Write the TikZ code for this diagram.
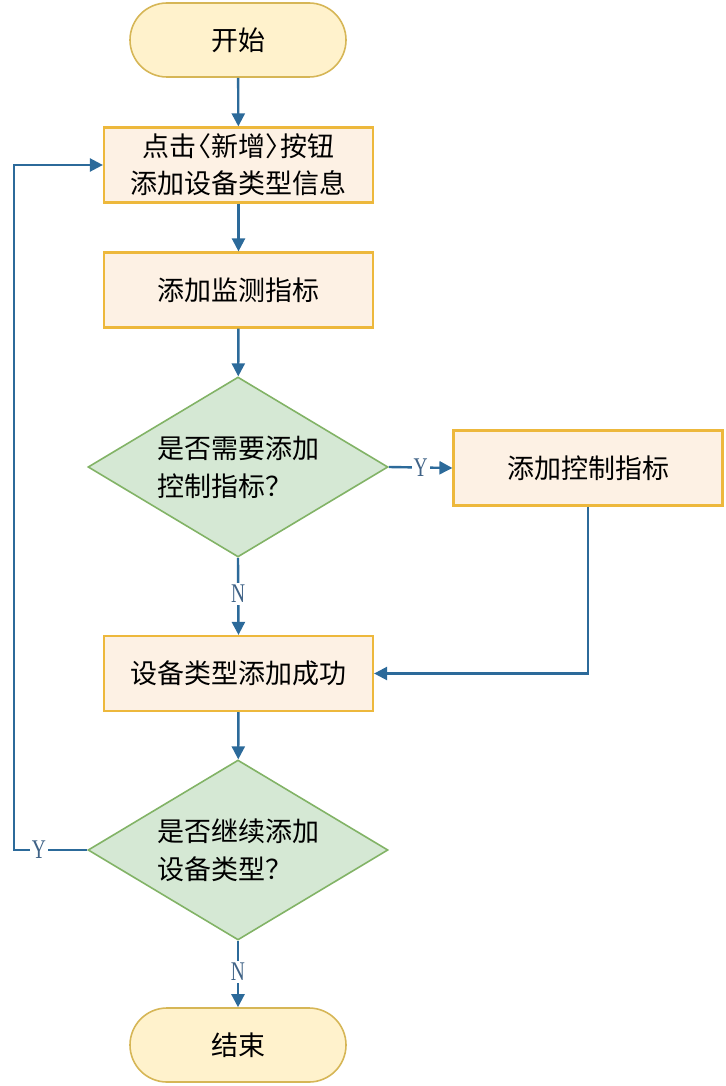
\documentclass[tikz,border=0pt]{standalone}
\usepackage{fontspec}
\newfontfamily\cjk{Noto Sans CJK SC}
\newfontfamily\lblfont{Liberation Serif}[FakeStretch=0.72]
\usetikzlibrary{shapes.geometric,shapes.misc,arrows.meta}
\definecolor{termfill}{HTML}{FFF2CC}
\definecolor{termdraw}{HTML}{D6B656}
\definecolor{boxfill}{HTML}{FDF1E4}
\definecolor{boxdraw}{HTML}{EDB83C}
\definecolor{decfill}{HTML}{D5E8D4}
\definecolor{decdraw}{HTML}{82B366}
\definecolor{linec}{HTML}{2C6A9A}
\definecolor{lblc}{HTML}{3F6286}
\tikzset{
  terminal/.style={rounded rectangle, draw=termdraw, fill=termfill, line width=1.6pt,
    minimum width=216pt, minimum height=74pt, inner sep=0pt, font=\cjk\fontsize{27}{30}\selectfont},
  procbox/.style={rectangle, draw=boxdraw, fill=boxfill, line width=2.2pt,
    minimum width=269pt, minimum height=75pt, inner sep=0pt, align=center,
    font=\cjk\fontsize{27}{37}\selectfont},
  decision/.style={diamond, aspect=1.667, draw=decdraw, fill=decfill, line width=1.6pt,
    minimum width=300pt, minimum height=180pt, inner sep=0pt, align=left,
    font=\cjk\fontsize{27}{38}\selectfont},
  conn/.style={draw=linec, line width=2.4pt, -{Triangle[length=13pt,width=13pt]}},
  lbl/.style={fill=white, inner sep=2pt, text=lblc, font=\lblfont\fontsize{27}{27}\selectfont}
}
\begin{document}
\begin{tikzpicture}[x=1pt,y=-1pt]
\useasboundingbox (0,0) rectangle (725,1086);
\node[terminal] (start) at (238,40) {开始};
\node[procbox] (b1) at (238.5,165) {点击\kern-0.45em〈新增〉\kern-0.45em按钮\\添加设备类型信息};
\node[procbox] (b2) at (238.5,290) {添加监测指标};
\node[decision] (d1) at (238,467) {是否需要添加\\控制指标？};
\node[procbox] (b3) at (588,468) {添加控制指标};
\node[procbox] (b4) at (238.5,673.5) {设备类型添加成功};
\node[decision] (d2) at (238,850) {是否继续添加\\设备类型？};
\node[terminal] (end) at (238,1045) {结束};
\coordinate (c1) at (588,673.5);
\coordinate (c2) at (14,850);
\coordinate (c3) at (14,165);

\draw[conn] (start) -- (b1);
\draw[conn] (b1) -- (b2);
\draw[conn] (b2) -- (d1);
\draw[conn] (d1.east) -- (b3.west) node[lbl, pos=0.5] {Y};
\draw[conn] (d1.south) -- (b4.north) node[lbl, pos=0.47] {N};
\draw[conn] (b3.south) -- (c1) -- (b4.east);
\draw[conn] (b4) -- (d2);
\draw[conn] (d2.south) -- (end.north) node[lbl, pos=0.47] {N};
\draw[conn] (d2.west) -- (c2) node[lbl, pos=0.66] {Y} -- (c3) -- (b1.west);
\end{tikzpicture}
\end{document}
